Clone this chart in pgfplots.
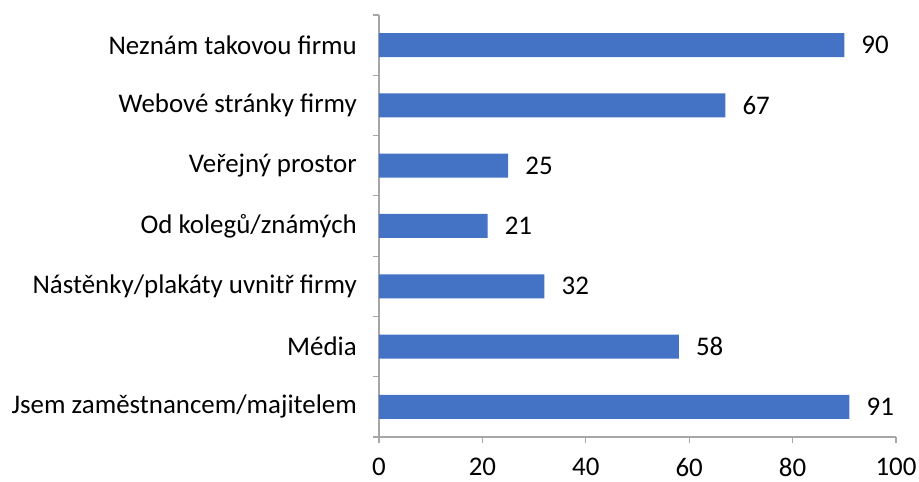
\documentclass[border=0pt]{standalone}
\usepackage{fontspec}
\setmainfont{Carlito}
\usepackage{pgfplots}
\pgfplotsset{compat=1.18}
\definecolor{barblue}{HTML}{4472C4}
\definecolor{axgray}{HTML}{A6A6A6}
\newcommand{\cf}{\fontsize{26.9bp}{32bp}\selectfont}
\begin{document}
\begin{tikzpicture}
\path[use as bounding box] (-379bp,-45bp) rectangle (540bp,437bp);
\begin{axis}[
  at={(0,0)}, anchor=south west,
  scale only axis,
  width=517bp, height=422bp,
  xbar, bar width=24bp,
  xmin=0, xmax=100,
  ymin=-0.5, ymax=6.5,
  axis x line=bottom, axis y line=left,
  axis line style={axgray, line width=1.2bp, -},
  xtick={0,20,...,100},
  ytick={0,...,6},
  yticklabels={Jsem zaměstnancem/majitelem, Média, Nástěnky/plakáty uvnitř firmy, Od kolegů/známých, Veřejný prostor, Webové stránky firmy, Neznám takovou firmu},
  minor ytick={-0.5,0.5,...,6.5},
  tick align=outside,
  major tick length=6bp,
  minor tick length=6bp,
  every tick/.style={draw=axgray, line width=1.2bp},
  every major y tick/.style={draw=none},
  every minor y tick/.style={draw=axgray, line width=1.2bp},
  tick label style={font=\cf, text=black},
  /pgf/number format/assume math mode=true,
  yticklabel style={inner sep=0pt, anchor=east, xshift=-16bp},
  xticklabel style={inner sep=0pt, anchor=north, yshift=-15bp},
  nodes near coords,
  nodes near coords style={font=\cf, text=black, anchor=west, inner sep=0pt, xshift=17bp},
  clip=false,
]
\addplot[fill=barblue, draw=none] coordinates {
  (91,0) (58,1) (32,2) (21,3) (25,4) (67,5) (90,6)
};
\end{axis}
\end{tikzpicture}
\end{document}
